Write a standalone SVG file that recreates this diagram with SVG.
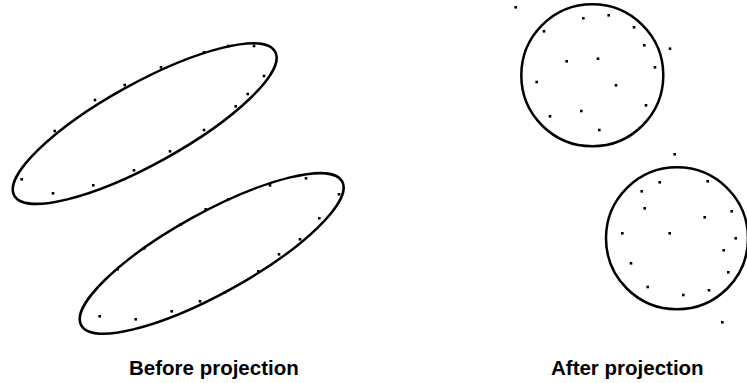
<svg xmlns="http://www.w3.org/2000/svg" width="747" height="383" viewBox="0 0 747 383">
<style>
.o{fill:none;stroke:#000;stroke-width:2.5}
.d{fill:#000}
.t{font-family:"Liberation Sans",Arial,sans-serif;font-weight:bold;font-size:20.5px;fill:#000}
</style>
<defs><rect id="p" x="-1.3" y="-1.3" width="2.6" height="2.6"/></defs>
<rect width="747" height="383" fill="#fff"/>
<g id="before">
<g id="cluster1">
<ellipse class="o" cx="144.7" cy="123.6" rx="149" ry="40.5" transform="rotate(-28.9 144.7 123.6)"/>
<g class="d">
<use href="#p" x="228.3" y="46"/><use href="#p" x="254" y="46"/><use href="#p" x="204" y="52.3"/><use href="#p" x="264" y="76"/><use href="#p" x="161" y="67.3"/><use href="#p" x="124.7" y="85"/><use href="#p" x="95" y="100"/><use href="#p" x="247.7" y="94"/><use href="#p" x="235.7" y="106.3"/><use href="#p" x="54.7" y="131"/><use href="#p" x="204" y="130"/><use href="#p" x="170" y="151.3"/><use href="#p" x="134" y="170.3"/><use href="#p" x="21.7" y="179.3"/><use href="#p" x="93.3" y="185.3"/><use href="#p" x="53" y="193.3"/>
</g>
</g>
<g id="cluster2">
<ellipse class="o" cx="211.7" cy="253.4" rx="149" ry="40.5" transform="rotate(-28.9 211.7 253.4)"/>
<g class="d">
<use href="#p" x="306" y="178.3"/><use href="#p" x="270" y="185.3"/><use href="#p" x="339" y="194.3"/><use href="#p" x="228.3" y="199.3"/><use href="#p" x="205.7" y="209.3"/><use href="#p" x="180.7" y="224.3"/><use href="#p" x="319.3" y="218.3"/><use href="#p" x="300" y="239.3"/><use href="#p" x="144.3" y="248.3"/><use href="#p" x="279" y="254.3"/><use href="#p" x="117.7" y="269.3"/><use href="#p" x="258.3" y="271.3"/><use href="#p" x="225" y="292.3"/><use href="#p" x="200" y="301.3"/><use href="#p" x="171.7" y="311.3"/><use href="#p" x="99.7" y="316.3"/><use href="#p" x="135.7" y="319.3"/>
</g>
</g>
<text class="t" x="129" y="375">Before projection</text>
</g>
<g id="after">
<g id="cluster3">
<circle class="o" cx="592.3" cy="75.3" r="71"/>
<g class="d">
<use href="#p" x="515.7" y="7.3"/><use href="#p" x="583.3" y="18.3"/><use href="#p" x="608.7" y="15.3"/><use href="#p" x="544" y="31.3"/><use href="#p" x="634" y="27.3"/><use href="#p" x="644.3" y="45.3"/><use href="#p" x="670" y="48.7"/><use href="#p" x="566.7" y="61.3"/><use href="#p" x="598" y="58.7"/><use href="#p" x="655" y="67.3"/><use href="#p" x="536.7" y="82"/><use href="#p" x="616" y="85.3"/><use href="#p" x="646" y="105.3"/><use href="#p" x="581.3" y="111"/><use href="#p" x="550" y="116.3"/><use href="#p" x="599.3" y="130"/>
</g>
</g>
<g id="cluster4">
<circle class="o" cx="677" cy="238.3" r="71"/>
<g class="d">
<use href="#p" x="674.7" y="154.3"/><use href="#p" x="659.7" y="182.3"/><use href="#p" x="707.7" y="181.3"/><use href="#p" x="641.7" y="191.3"/><use href="#p" x="644.7" y="208.3"/><use href="#p" x="731.7" y="211.3"/><use href="#p" x="704.7" y="217.3"/><use href="#p" x="622.3" y="233.3"/><use href="#p" x="669.7" y="233.3"/><use href="#p" x="735.7" y="238.3"/><use href="#p" x="723.7" y="250.3"/><use href="#p" x="631" y="263.3"/><use href="#p" x="728.3" y="272.3"/><use href="#p" x="647.7" y="287"/><use href="#p" x="709" y="290.3"/><use href="#p" x="683.3" y="295"/><use href="#p" x="722.3" y="322.3"/>
</g>
</g>
<text class="t" x="551" y="375">After projection</text>
</g>
</svg>
